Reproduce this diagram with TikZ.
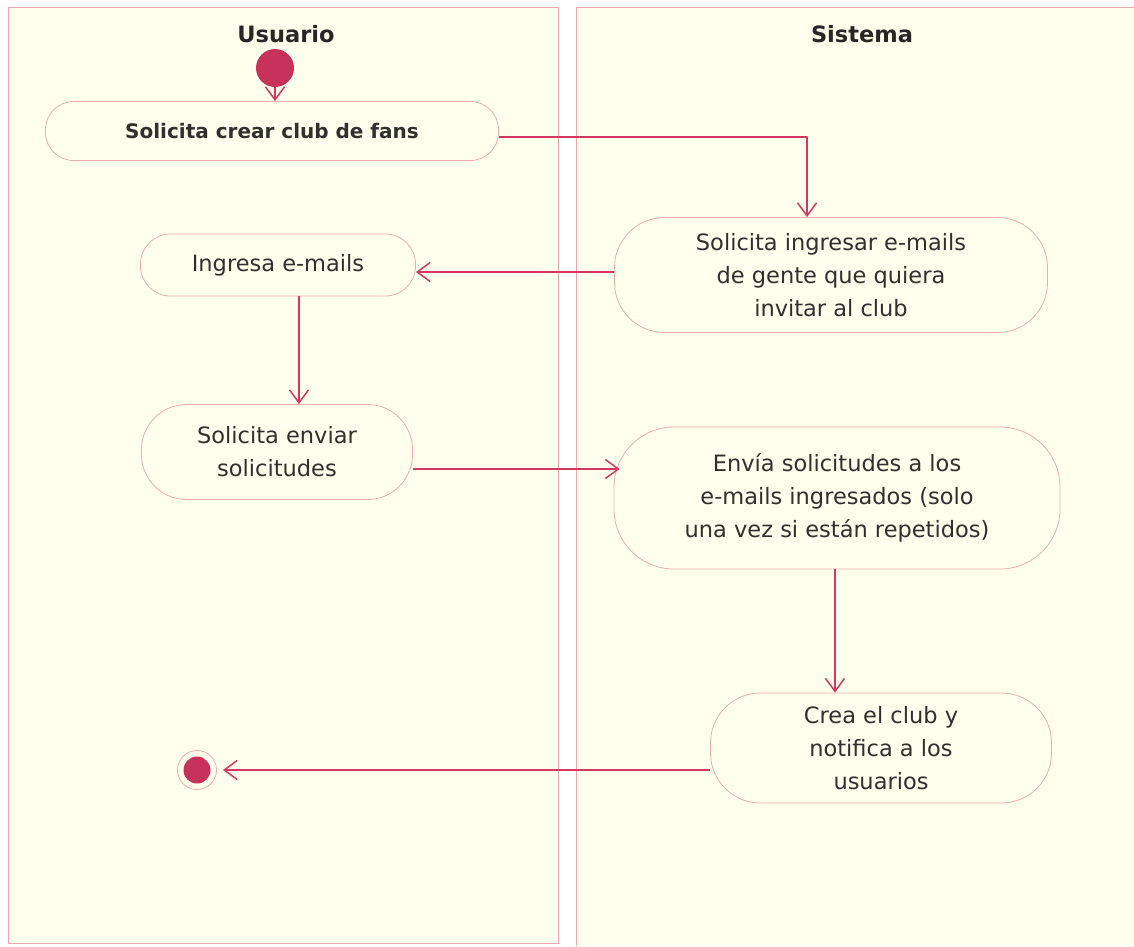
\documentclass[tikz,border=0pt]{standalone}
\usepackage{fontspec}
\setmainfont{DejaVu Sans}
\usetikzlibrary{arrows.meta}
\definecolor{flujo}{RGB}{212,56,96}
\definecolor{punto}{RGB}{198,50,90}
\definecolor{borde}{RGB}{240,172,170}
\definecolor{carril}{RGB}{240,165,175}
\definecolor{fondo}{RGB}{255,255,238}
\definecolor{texto}{RGB}{48,48,46}
\tikzset{
  act/.style={draw=borde, fill=fondo, line width=0.8pt, rounded corners=#1, inner sep=0pt,
    align=center, text=texto, font=\fontsize{22.5}{33}\selectfont},
  act/.default=28pt,
  flow/.style={draw=flujo, line width=1.5pt, ->},
  lane/.style={draw=carril, fill=fondo, line width=0.8pt},
  titulo/.style={font=\bfseries\fontsize{22.5}{26}\selectfont, text=texto!80!black}
}
\begin{document}
\begin{tikzpicture}[x=1pt, y=-1pt, line join=round, >={Straight Barb[length=13pt,width=19pt]}]
	\useasboundingbox (0,0) rectangle (1134,946);
	% carriles
	\fill[white] (0,0) rectangle (1134,946);
	\draw[lane] (8,7) rectangle (558,943);
	\fill[fondo] (576,7) rectangle (1134,946);
	\draw[carril, line width=0.8pt] (576,946) -- (576,7) -- (1134,7);
	\node[titulo] (usuario) at (286,34) {Usuario};
	\node[titulo] (sistema) at (862,34) {Sistema};
	% inicio y fin
	\node[circle, fill=punto, minimum size=38pt, inner sep=0pt] (inicio) at (275,68) {};
	\node[circle, draw=borde, fill=fondo, line width=0.8pt, minimum size=39pt, inner sep=0pt,
	  path picture={\fill[punto] (path picture bounding box.center) circle (13.5pt);}] (fin) at (197,770) {};
	% actividades
	\node[act, minimum width=453pt, minimum height=59pt, font=\bfseries\fontsize{20}{26}\selectfont] (crear) at (272,131) {Solicita crear club de fans};
	\node[act=50pt, minimum width=433pt, minimum height=115pt] (pide) at (831,275) {Solicita ingresar e-mails\\de gente que quiera\\invitar al club};
	\node[act=30pt, minimum width=275pt, minimum height=62pt] (ingresa) at (278,265) {Ingresa e-mails};
	\node[act=45pt, minimum width=271pt, minimum height=95pt] (enviar) at (277,452) {Solicita enviar\\solicitudes};
	\node[act=60pt, minimum width=446pt, minimum height=142pt] (envia) at (837,498) {Envía solicitudes a los\\e-mails ingresados (solo\\una vez si están repetidos)};
	\node[act=50pt, minimum width=341pt, minimum height=110pt] (crea) at (881,748) {Crea el club y\\notifica a los\\usuarios};
	% flujos
	\draw[flow] (inicio) -- (inicio |- crear.north);
	\draw[flow] ([yshift=-6pt]crear.east) -| ([xshift=-24pt]pide.north);
	\draw[flow] ([yshift=3pt]pide.west) -- ([yshift=3pt]pide.west -| ingresa.east);
	\draw[flow] ([xshift=21pt]ingresa.south) -- ([xshift=21pt]ingresa.south |- enviar.north);
	\draw[flow] ([yshift=-17pt]enviar.east) -- ([yshift=-17pt,xshift=6pt]enviar.east -| envia.west);
	\draw[flow] ([xshift=-2pt]envia.south) -- ([xshift=-2pt]envia.south |- crea.north);
	\draw[flow, shorten >=6pt] ([yshift=-22pt]crea.west) -- (fin);
\end{tikzpicture}
\end{document}
